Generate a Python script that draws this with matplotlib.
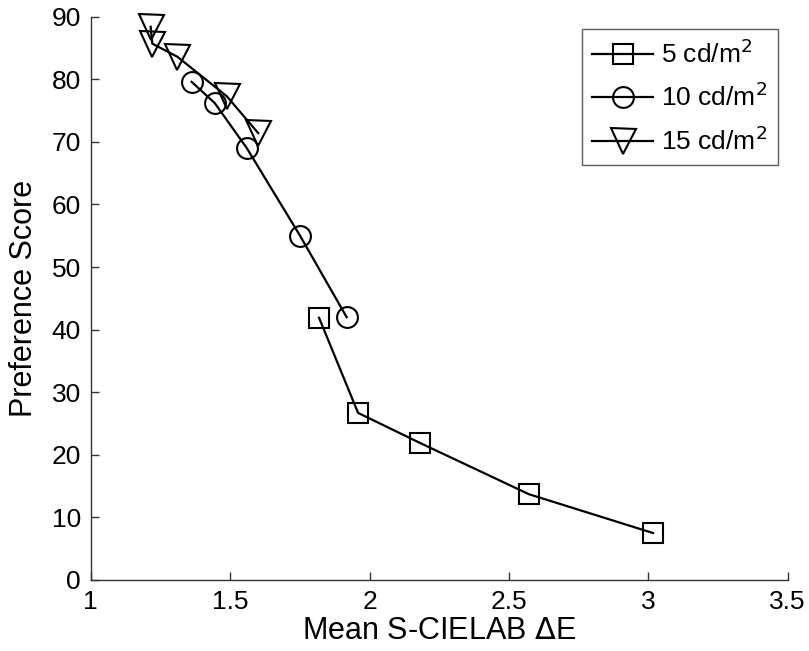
import matplotlib
matplotlib.use('Agg')
import matplotlib.pyplot as plt

plt.rcParams['font.family'] = ['Liberation Sans', 'DejaVu Sans']

# data
x5 = [1.819, 1.959, 2.181, 2.572, 3.017]
y5 = [41.9, 26.7, 21.9, 13.7, 7.5]

x10 = [1.362, 1.445, 1.560, 1.751, 1.918]
y10 = [79.6, 76.2, 69.0, 55.0, 42.0]

x15 = [1.215, 1.221, 1.311, 1.488, 1.601]
y15 = [88.4, 85.7, 83.6, 77.3, 71.4]

labels = ['5 cd/m$^2$', '10 cd/m$^2$', '15 cd/m$^2$']
xticks = [1, 1.5, 2, 2.5, 3, 3.5]
yticks = [0, 10, 20, 30, 40, 50, 60, 70, 80, 90]

fig = plt.figure(figsize=(8.09, 6.51), dpi=100)
ax = fig.add_axes([0.1121, 0.1091, 0.8616, 0.8652])

style = dict(color='black', linewidth=1.6, markerfacecolor='none',
             markeredgecolor='black', markeredgewidth=1.5, clip_on=False)
ax.plot(x5, y5, marker='s', markersize=14, label=labels[0], **style)
ax.plot(x10, y10, marker='o', markersize=15, label=labels[1], **style)
ax.plot(x15, y15, marker='v', markersize=18, label=labels[2], **style)

ax.set_xlim(1, 3.5)
ax.set_ylim(0, 90)
ax.set_xticks(xticks)
ax.set_xticklabels(['1', '1.5', '2', '2.5', '3', '3.5'])
ax.set_yticks(yticks)
ax.spines['top'].set_visible(False)
ax.spines['right'].set_visible(False)
for s in ['left', 'bottom']:
    ax.spines[s].set_color('#333333')
    ax.spines[s].set_linewidth(1.0)
ax.tick_params(direction='in', length=6, width=1.0, labelsize=19,
               colors='#333333', labelcolor='black', pad=7)

ax.set_xlabel('Mean S-CIELAB $\\Delta$E', fontsize=22, labelpad=2)
ax.set_ylabel('Preference Score', fontsize=22, labelpad=9)

leg = ax.legend(loc='upper right', fontsize=19, frameon=True, fancybox=False,
                edgecolor='#333333', handlelength=2.3, handletextpad=0.3,
                labelspacing=0.57, borderpad=0.4, borderaxespad=0.2,
                bbox_to_anchor=(0.993, 0.988))
leg.get_frame().set_linewidth(1.0)

fig.savefig('out.png', dpi=100)
